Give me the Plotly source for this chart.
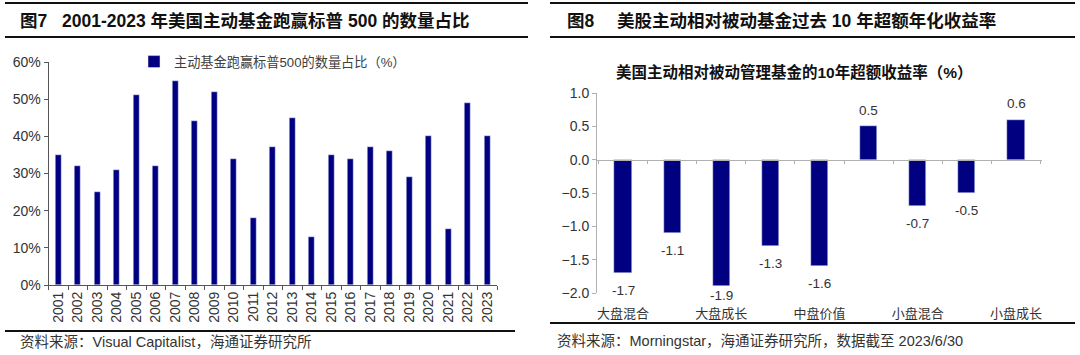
import plotly.graph_objects as go

# ---------------- data ----------------
years = ["2001", "2002", "2003", "2004", "2005", "2006", "2007", "2008", "2009", "2010",
         "2011", "2012", "2013", "2014", "2015", "2016", "2017", "2018", "2019", "2020",
         "2021", "2022", "2023"]
beat_share = [35, 32, 25, 31, 51, 32, 55, 44, 52, 34,
              18, 37, 45, 13, 35, 34, 37, 36, 29, 40,
              15, 49, 40]
left_series_name = "主动基金跑赢标普500的数量占比（%）"

styles = ["大盘混合", "大盘价值", "大盘成长", "中盘混合", "中盘价值",
          "中盘成长", "小盘混合", "小盘价值", "小盘成长"]
excess_return = [-1.7, -1.1, -1.9, -1.3, -1.6, 0.5, -0.7, -0.5, 0.6]
shown_style_labels = ["大盘混合", "大盘成长", "中盘价值", "小盘混合", "小盘成长"]

left_title_no = "图7"
left_title = "2001-2023 年美国主动基金跑赢标普 500 的数量占比"
right_title_no = "图8"
right_title = "美股主动相对被动基金过去 10 年超额年化收益率"
right_subtitle = "美国主动相对被动管理基金的10年超额收益率（%）"
left_source = "资料来源：Visual Capitalist，海通证券研究所"
right_source = "资料来源：Morningstar，海通证券研究所，数据截至 2023/6/30"

# ---------------- layout helpers ----------------
W, H = 1080, 355
def px(x):
    return x / W
def py(y):
    return 1 - y / H

BAR = "#000080"
FONT = "Arial, 'Liberation Sans', 'Noto Sans CJK SC', sans-serif"
TXT = "#333333"

fig = go.Figure()

# Left chart
fig.add_trace(go.Bar(
    x=years, y=beat_share, name=left_series_name, marker_color=BAR,
    width=0.33, xaxis="x", yaxis="y", showlegend=True,
))

# Right chart
fig.add_trace(go.Bar(
    x=styles, y=excess_return, marker_color=BAR, width=0.35,
    xaxis="x3", yaxis="y3", showlegend=False,
))
# helper trace for the zero-line axis with boundary ticks
fig.add_trace(go.Scatter(
    x=styles, y=[0] * len(styles), mode="markers", marker=dict(opacity=0),
    xaxis="x4", yaxis="y3", showlegend=False, hoverinfo="skip",
))

left_dom_x = [px(48.5), px(497)]
left_dom_y = [py(285), py(62)]
right_top_px, right_bot_px = 93, 293
right_dom_x = [px(597), px(1042)]
right_dom_y = [py(right_bot_px), py(right_top_px)]
r_lo, r_hi = -2, 1
zero_pos = right_dom_y[0] + (0 - r_lo) / (r_hi - r_lo) * (right_dom_y[1] - right_dom_y[0])
px_per_unit = (right_bot_px - right_top_px) / (r_hi - r_lo)

fig.update_layout(
    width=W, height=H,
    margin=dict(l=0, r=0, t=0, b=0, pad=0, autoexpand=False),
    paper_bgcolor="white", plot_bgcolor="white",
    font=dict(family=FONT, color=TXT),
    xaxis=dict(
        domain=left_dom_x, anchor="y", type="category", automargin=False,
        showline=True, linecolor="#555555", linewidth=1,
        ticks="outside", ticklen=4, tickcolor="#555555", tickson="boundaries",
        tickangle=-90, tickfont=dict(size=14, color=TXT, family=FONT),
        showgrid=False,
    ),
    yaxis=dict(
        domain=left_dom_y, anchor="x", range=[0, 60], dtick=10, ticksuffix="%",
        automargin=False,
        showline=True, linecolor="#555555", linewidth=1,
        ticks="outside", ticklen=4, tickcolor="#555555",
        tickfont=dict(size=14, color=TXT, family=FONT),
        showgrid=False, zeroline=False,
    ),
    xaxis3=dict(
        domain=right_dom_x, anchor="y3", type="category", automargin=False,
        tickvals=shown_style_labels, ticktext=shown_style_labels,
        showline=False, ticks="outside", ticklen=8, tickcolor="rgba(0,0,0,0)",
        tickfont=dict(size=13, color=TXT, family="'Noto Sans CJK SC', sans-serif"),
        showgrid=False, zeroline=False,
    ),
    xaxis4=dict(
        matches="x3", overlaying="x3", anchor="free", position=zero_pos,
        type="category", automargin=False,
        showline=True, linecolor="#b0b0b0", linewidth=1,
        ticks="outside", ticklen=3, tickcolor="#b0b0b0", tickson="boundaries",
        showticklabels=False, showgrid=False,
    ),
    yaxis3=dict(
        domain=right_dom_y, anchor="x3", range=[r_lo, r_hi], dtick=0.5, tickformat=".1f",
        automargin=False,
        showline=True, linecolor="#b0b0b0", linewidth=1,
        ticks="outside", ticklen=4, tickcolor="#b0b0b0",
        tickfont=dict(size=14, color=TXT, family=FONT),
        showgrid=False, zeroline=False,
    ),
    legend=dict(
        x=px(134), y=py(62), xanchor="left", yanchor="middle",
        bgcolor="rgba(0,0,0,0)", font=dict(size=13.2, color="#404040"),
        itemwidth=30,
    ),
    bargap=0,
)

# value labels on right chart (kept inside the chart area like the original)
for cat, v in zip(styles, excess_return):
    if v >= 0:
        shift = 16
    else:
        shift = -min(17, (v - r_lo) * px_per_unit + 3)
    fig.add_annotation(
        x=cat, y=v, xref="x3", yref="y3", text=f"{v:.1f}", showarrow=False,
        yshift=shift, yanchor="middle",
        font=dict(size=13.5, color=TXT, family=FONT),
    )

# titles
def add_text(x, y, text, size, bold=False, color="#111111", xanchor="left"):
    fig.add_annotation(
        x=px(x), y=py(y), xref="paper", yref="paper", text=f"<b>{text}</b>" if bold else text,
        showarrow=False, xanchor=xanchor, yanchor="middle",
        font=dict(size=size, color=color, family=FONT),
    )

add_text(18, 21, left_title_no, 17.5, bold=True)
add_text(60, 21, left_title, 17.5, bold=True)
add_text(565, 21, right_title_no, 17.5, bold=True)
add_text(615, 21, right_title, 17.5, bold=True)
add_text(794, 72, right_subtitle, 15.5, bold=True, xanchor="center")
add_text(18, 342, left_source, 14.5, color=TXT)
add_text(555, 341, right_source, 14.5, color=TXT)

# separator rules
def rule(x0, x1, y):
    fig.add_shape(type="line", xref="paper", yref="paper",
                  x0=px(x0), x1=px(x1), y0=py(y), y1=py(y),
                  line=dict(color="#111111", width=2))

rule(5, 528, 3); rule(5, 528, 37); rule(5, 515, 331)
rule(550, 1075, 3); rule(550, 1075, 37); rule(550, 1075, 323)

fig.write_html(
    "out.html",
    config={"displayModeBar": False},
    post_script="document.body.style.margin='0';document.body.style.overflow='hidden';",
)
